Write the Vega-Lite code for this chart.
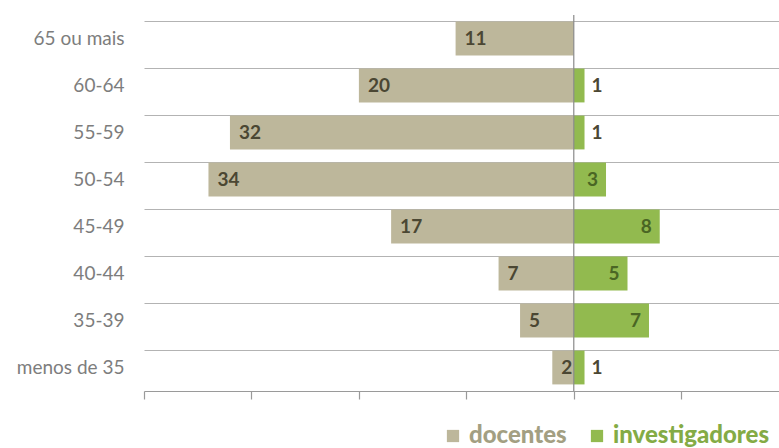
{
  "$schema": "https://vega.github.io/schema/vega-lite/v6.json",
  "autosize": "none",
  "width": 635,
  "height": 376,
  "padding": {"left": 144, "top": 15, "right": 0, "bottom": 57},
  "background": "white",
  "config": {"view": {"stroke": null}, "font": "Lato"},
  "data": {"values": [
    {"idade": "65 ou mais", "grupo": "docentes", "valor": -11, "n": 11},
    {"idade": "60-64", "grupo": "docentes", "valor": -20, "n": 20},
    {"idade": "55-59", "grupo": "docentes", "valor": -32, "n": 32},
    {"idade": "50-54", "grupo": "docentes", "valor": -34, "n": 34},
    {"idade": "45-49", "grupo": "docentes", "valor": -17, "n": 17},
    {"idade": "40-44", "grupo": "docentes", "valor": -7, "n": 7},
    {"idade": "35-39", "grupo": "docentes", "valor": -5, "n": 5},
    {"idade": "menos de 35", "grupo": "docentes", "valor": -2, "n": 2},
    {"idade": "60-64", "grupo": "investigadores", "valor": 1, "n": 1},
    {"idade": "55-59", "grupo": "investigadores", "valor": 1, "n": 1},
    {"idade": "50-54", "grupo": "investigadores", "valor": 3, "n": 3},
    {"idade": "45-49", "grupo": "investigadores", "valor": 8, "n": 8},
    {"idade": "40-44", "grupo": "investigadores", "valor": 5, "n": 5},
    {"idade": "35-39", "grupo": "investigadores", "valor": 7, "n": 7},
    {"idade": "menos de 35", "grupo": "investigadores", "valor": 1, "n": 1}
  ]},
  "encoding": {
    "y": {
      "field": "idade", "type": "nominal", "title": null,
      "sort": ["65 ou mais", "60-64", "55-59", "50-54", "45-49", "40-44", "35-39", "menos de 35"],
      "scale": {"paddingInner": 0.28, "paddingOuter": 0.14},
      "axis": {
        "domain": false, "ticks": false, "grid": true, "bandPosition": 0,
        "gridColor": "#b3b3b3", "gridWidth": 1.2,
        "labelPadding": 20, "labelFontSize": 19, "labelColor": "#7d7d7d", "labelFont": "Lato"
      }
    },
    "x": {
      "field": "valor", "type": "quantitative", "title": null,
      "scale": {"domain": [-40, 19.1], "nice": false, "zero": false},
      "axis": {
        "values": [-40, -30, -20, -10, 0, 10], "labels": false, "grid": false,
        "domainColor": "#9a9a9a", "domainWidth": 1.2, "tickColor": "#9a9a9a", "tickSize": 8, "tickWidth": 1.2
      }
    }
  },
  "layer": [
    {
      "mark": {"type": "bar"},
      "encoding": {
        "color": {
          "field": "grupo", "type": "nominal",
          "scale": {"domain": ["docentes", "investigadores"], "range": ["#bdb79b", "#92ba4f"]},
          "legend": {
            "title": null, "orient": "none", "direction": "horizontal",
            "legendX": 297, "legendY": 409,
            "symbolType": "square", "symbolSize": 150, "symbolStrokeWidth": 0,
            "labelFontSize": 24, "labelFontWeight": 900, "labelFont": "Lato", "labelLimit": 400,
            "labelColor": {"expr": "datum.label == 'docentes' ? '#a39f82' : '#84ab45'"},
            "labelOffset": 4, "columnPadding": 18
          }
        }
      }
    },
    {
      "mark": {"type": "rule", "color": "#8a8a8a", "strokeWidth": 1.2},
      "data": {"values": [{"valor": 0}]},
      "encoding": {"y": null}
    },
    {
      "transform": [{"filter": "datum.grupo == 'docentes'"}],
      "mark": {"type": "text", "align": "left", "dx": 9, "fontSize": 19, "fontWeight": "bold", "color": "#4b4733", "font": "Lato"},
      "encoding": {"text": {"field": "n"}}
    },
    {
      "transform": [{"filter": "datum.grupo == 'investigadores' && datum.n >= 3"}],
      "mark": {"type": "text", "align": "right", "dx": -8, "fontSize": 19, "fontWeight": "bold", "color": "#4a6624", "font": "Lato"},
      "encoding": {"text": {"field": "n"}}
    },
    {
      "transform": [{"filter": "datum.grupo == 'investigadores' && datum.n < 3"}],
      "mark": {"type": "text", "align": "left", "dx": 7, "fontSize": 19, "fontWeight": "bold", "color": "#4b4733", "font": "Lato"},
      "encoding": {"text": {"field": "n"}}
    }
  ]
}
